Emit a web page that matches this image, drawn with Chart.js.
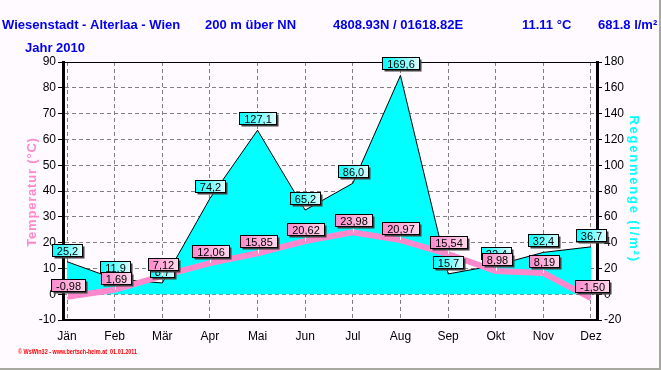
<!DOCTYPE html>
<html>
<head>
<meta charset="utf-8">
<script src="https://cdn.jsdelivr.net/npm/chart.js@4"></script>
<style>
  html, body { margin: 0; padding: 0; background: #fffaff; }
  #wrap { width: 661px; height: 370px; }
</style>
</head>
<body>
<div id="wrap"><canvas id="c" width="661" height="370"></canvas></div>
<script>
// Monatswerte 2010
const months = ['Jän', 'Feb', 'Mär', 'Apr', 'Mai', 'Jun', 'Jul', 'Aug', 'Sep', 'Okt', 'Nov', 'Dez'];
const temperatur = [-0.98, 1.69, 7.12, 12.06, 15.85, 20.62, 23.98, 20.97, 15.54, 8.98, 8.19, -1.50];
const regen = [25.2, 11.9, 8.7, 74.2, 127.1, 65.2, 86.0, 169.6, 15.7, 22.4, 32.4, 36.7];

const headerTexts = [
    ['Wiesenstadt - Alterlaa - Wien', 2],
    ['200 m über NN', 205],
    ['4808.93N / 01618.82E', 333],
    ['11.11 °C', 522],
    ['681.8 l/m²', 598]
];

const FONT = '"Liberation Sans", Arial, sans-serif';
const bg = '#fffaff';
const pink = '#ff88cc';
const cyan = '#00ffff';
const gridColor = '#808080';

// Box with shadow like the original WsWin labels
function drawBox(ctx, text, cx, cy, c1, c2) {
    ctx.font = '11px ' + FONT;
    const w = Math.round(ctx.measureText(text).width) + 9;
    const h = 12;
    const x = Math.round(cx - w / 2) + 0.5;
    const y = Math.round(cy - h / 2) + 0.5;
    ctx.fillStyle = '#404040';
    ctx.fillRect(x + 2, y + 2, w, h);
    const g = ctx.createLinearGradient(x, 0, x + w, 0);
    g.addColorStop(0, c1);
    g.addColorStop(1, c2);
    ctx.fillStyle = g;
    ctx.fillRect(x, y, w, h);
    ctx.strokeStyle = '#000';
    ctx.lineWidth = 1;
    ctx.strokeRect(x, y, w, h);
    ctx.fillStyle = '#000';
    ctx.textAlign = 'center';
    ctx.textBaseline = 'middle';
    ctx.fillText(text, x + w / 2, y + h / 2 + 1);
}

const wsPlugin = {
    id: 'wswin',
    beforeDraw(chart) {
        const ctx = chart.ctx;
        ctx.save();
        ctx.fillStyle = bg;
        ctx.fillRect(0, 0, chart.width, chart.height);

        // Kopfzeile
        ctx.fillStyle = '#0000ee';
        ctx.font = 'bold 13px ' + FONT;
        ctx.textAlign = 'left';
        ctx.textBaseline = 'alphabetic';
        headerTexts.forEach(([t, x]) => ctx.fillText(t, x, 29));
        ctx.fillText('Jahr 2010', 25, 52);

        // Achsentitel
        ctx.font = 'bold 13px ' + FONT;
        ctx.textAlign = 'center';
        ctx.textBaseline = 'middle';
        ctx.save();
        ctx.translate(32, 192);
        ctx.rotate(-Math.PI / 2);
        ctx.letterSpacing = '0.8px';
        ctx.fillStyle = pink;
        ctx.fillText('Temperatur (°C)', 0, 0);
        ctx.restore();
        ctx.save();
        ctx.translate(634, 189);
        ctx.rotate(Math.PI / 2);
        ctx.letterSpacing = '1.8px';
        ctx.fillStyle = cyan;
        ctx.fillText('Regenmenge (l/m²)', 0, 0);
        ctx.restore();
        ctx.letterSpacing = '0px';

        // Fußzeile
        const foot = '© WsWin32 - www.bertsch-heim.at  01.01.2011';
        ctx.font = 'bold 7px ' + FONT;
        ctx.textAlign = 'left';
        ctx.textBaseline = 'alphabetic';
        ctx.fillStyle = '#ff0000';
        const fw = ctx.measureText(foot).width;
        ctx.save();
        ctx.translate(18, 354);
        ctx.scale(119 / fw, 1);
        ctx.fillText(foot, 0, 0);
        ctx.restore();

        // Fensterrand
        ctx.fillStyle = '#a8a8a0';
        ctx.fillRect(0, chart.height - 2, chart.width, 2);
        ctx.fillRect(chart.width - 2, 0, 2, chart.height);
        ctx.restore();
    },
    afterDatasetsDraw(chart) {
        const ctx = chart.ctx;
        const a = chart.chartArea;
        const xs = chart.scales.x, ys = chart.scales.y, y2 = chart.scales.y2;
        ctx.save();
        // oberer Rahmen
        ctx.strokeStyle = '#000';
        ctx.lineWidth = 1;
        ctx.beginPath();
        ctx.moveTo(a.left, a.top + 0.5);
        ctx.lineTo(a.right, a.top + 0.5);
        ctx.stroke();

        regen.forEach((v, i) => {
            const px = xs.getPixelForValue(i);
            const py = y2.getPixelForValue(v);
            drawBox(ctx, v.toFixed(1).replace('.', ','), px, py - 12, cyan, '#e0ffff');
        });
        temperatur.forEach((v, i) => {
            const px = Math.round(xs.getPixelForValue(i)) + 0.5;
            const py = ys.getPixelForValue(v);
            ctx.strokeStyle = '#ffffff';
            ctx.lineWidth = 1;
            ctx.beginPath();
            ctx.moveTo(px, py - 6);
            ctx.lineTo(px, py);
            ctx.stroke();
            drawBox(ctx, v.toFixed(2).replace('.', ','), px, py - 12, pink, '#ffd8ec');
        });
        ctx.restore();
    }
};

Chart.defaults.font.family = FONT;
Chart.defaults.font.size = 12;
Chart.defaults.color = '#000';

new Chart(document.getElementById('c'), {
    type: 'line',
    data: {
        datasets: [
            {
                label: 'Temperatur',
                data: temperatur.map((v, i) => ({ x: i, y: v })),
                yAxisID: 'y',
                borderColor: pink,
                borderWidth: 6,
                pointRadius: 0,
                tension: 0,
                fill: false,
                order: 0
            },
            {
                label: 'Regenmenge',
                data: regen.map((v, i) => ({ x: i, y: v })),
                yAxisID: 'y2',
                borderColor: '#000',
                borderWidth: 1,
                backgroundColor: cyan,
                pointRadius: 0,
                tension: 0,
                fill: 'origin',
                order: 1
            }
        ]
    },
    options: {
        responsive: false,
        animation: false,
        layout: { padding: { top: 62, left: 0, right: 0, bottom: 0 } },
        plugins: { legend: { display: false }, tooltip: { enabled: false } },
        scales: {
            x: {
                type: 'linear',
                min: -0.084,
                max: 11.126,
                afterFit: s => { s.height = 50; },
                grid: { color: gridColor, drawTicks: false },
                border: { color: '#000', width: 2, dash: [4, 3] },
                ticks: {
                    stepSize: 1,
                    includeBounds: false,
                    padding: 9,
                    maxRotation: 0,
                    autoSkip: false,
                    callback: v => Number.isInteger(v) ? months[v] : ''
                }
            },
            y: {
                position: 'left',
                min: -10,
                max: 90,
                afterFit: s => { s.width = 63; },
                grid: {
                    color: gridColor,
                    tickLength: 5, tickColor: '#000', tickBorderDash: [0, 0], drawTicks: true
                },
                border: { color: '#000', width: 3, dash: [4, 3] },
                ticks: { stepSize: 10, padding: 2 }
            },
            y2: {
                position: 'right',
                min: -20,
                max: 180,
                afterFit: s => { s.width = 64; },
                grid: {
                    drawOnChartArea: false,
                    tickLength: 5, tickColor: '#000', tickBorderDash: [0, 0], drawTicks: true
                },
                border: { color: '#000', width: 3 },
                ticks: { stepSize: 20, padding: 2 }
            }
        }
    },
    plugins: [wsPlugin]
});
</script>
</body>
</html>
